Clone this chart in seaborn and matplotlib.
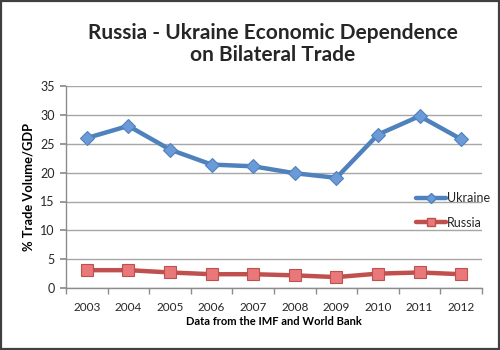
import matplotlib
matplotlib.use("Agg")
import matplotlib.pyplot as plt
import matplotlib.patches as mpatches
from matplotlib.lines import Line2D
import seaborn as sns
import pandas as pd
import numpy as np

years = ["2003", "2004", "2005", "2006", "2007", "2008", "2009", "2010", "2011", "2012"]
ukraine = [26.0, 28.1, 24.0, 21.4, 21.1, 19.9, 19.1, 26.6, 29.8, 25.8]
russia = [3.1, 3.1, 2.7, 2.4, 2.4, 2.2, 1.9, 2.5, 2.7, 2.4]

df = pd.DataFrame({
    "Year": years * 2,
    "Value": ukraine + russia,
    "Country": ["Ukraine"] * len(years) + ["Russia"] * len(years),
})

sns.set_theme(style="white")
plt.rcParams["font.family"] = ["Lato", "DejaVu Sans"]

fig = plt.figure(figsize=(5, 3.5), dpi=100)
ax = fig.add_axes([0.132, 0.177, 0.832, 0.577])

line_col = {"Ukraine": "#4F81BD", "Russia": "#C0504D"}
face_col = {"Ukraine": "#6A9BD8", "Russia": "#E8787A"}
mk = {"Ukraine": "D", "Russia": "s"}
msz = {"Ukraine": 7, "Russia": 8.5}

for c in ["Ukraine", "Russia"]:
    sub = df[df["Country"] == c]
    sns.lineplot(data=sub, x="Year", y="Value", ax=ax, color=line_col[c],
                 linewidth=3.2, marker=mk[c], markersize=msz[c],
                 markerfacecolor=face_col[c], markeredgecolor=line_col[c],
                 markeredgewidth=0.8, sort=False, legend=False)

ax.set_ylim(0, 35)
ax.set_xlim(-0.5, len(years) - 0.5)
ax.set_yticks(np.arange(0, 36, 5))
ax.yaxis.grid(True, color="#A6A6A6", linewidth=1)
ax.set_axisbelow(True)
for s in ["top", "right"]:
    ax.spines[s].set_visible(False)
for s in ["left", "bottom"]:
    ax.spines[s].set_color("#8C8C8C")
    ax.spines[s].set_linewidth(1)

ax.set_xticks(np.arange(-0.5, len(years), 1.0), minor=True)
ax.tick_params(axis="x", which="major", length=0, labelsize=8.5, colors="#262626", pad=10)
ax.tick_params(axis="x", which="minor", length=4, color="#8C8C8C", direction="out", bottom=True)
ax.tick_params(axis="y", which="major", length=4, color="#8C8C8C", direction="out", left=True,
               labelsize=9, labelcolor="#262626", pad=4)

ax.set_xlabel("Data from the IMF and World Bank", fontsize=8, fontweight="bold", color="black", labelpad=2)
ax.set_ylabel("% Trade Volume/GDP", fontsize=9.3, fontweight="bold", color="black", labelpad=4)

fig.text(0.545, 0.875, "Russia - Ukraine Economic Dependence\non Bilateral Trade",
         ha="center", va="center", fontsize=15, fontweight="bold", linespacing=1.15)

handles = [
    Line2D([], [], color=line_col["Ukraine"], linewidth=3.2, marker="D", markersize=5,
           markerfacecolor=face_col["Ukraine"], markeredgecolor=line_col["Ukraine"]),
    Line2D([], [], color=line_col["Russia"], linewidth=3.2, marker="s", markersize=6,
           markerfacecolor=face_col["Russia"], markeredgecolor=line_col["Russia"]),
]
ax.legend(handles, ["Ukraine", "Russia"], loc="center left", bbox_to_anchor=(0.83, 0.385),
          frameon=False, fontsize=9, handlelength=2.4, handletextpad=0.05, labelspacing=1.0,
          borderaxespad=0)

fig.patches.append(mpatches.Rectangle((0.002, 0.003), 0.996, 0.994, transform=fig.transFigure,
                                      fill=False, edgecolor="#404040", linewidth=1.6))

fig.savefig("out.png", dpi=100)
